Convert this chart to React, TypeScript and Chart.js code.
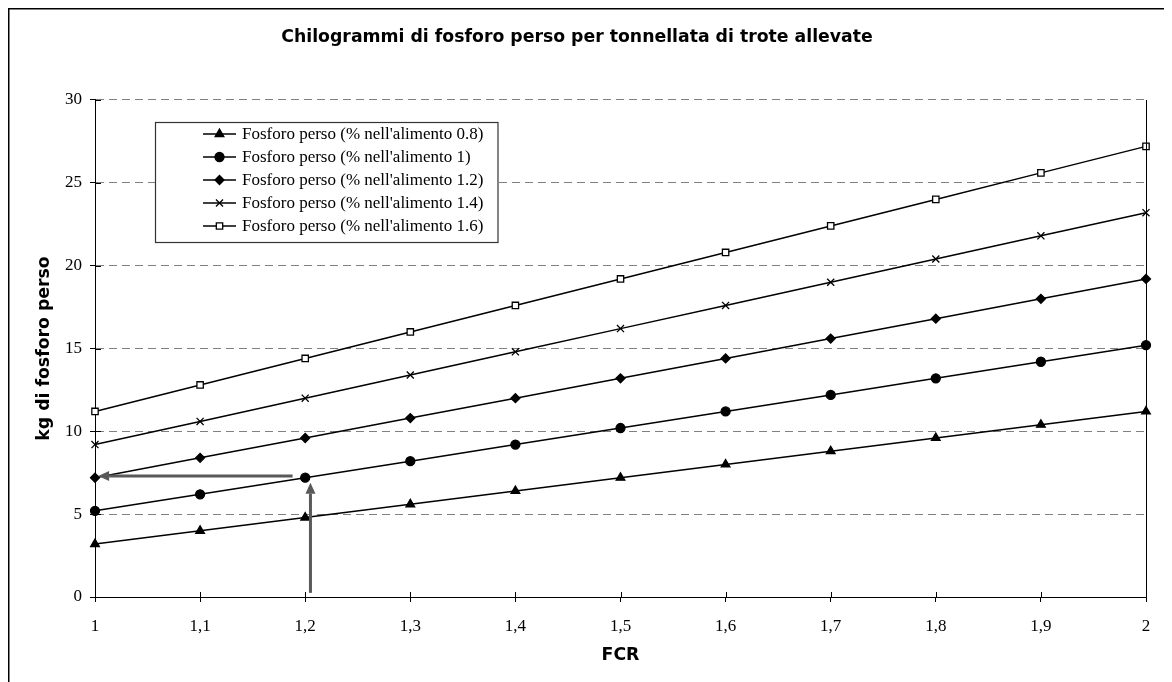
import React, { useEffect, useRef } from 'react';
import { Chart, registerables } from 'chart.js';
import { drawPoint } from 'chart.js/helpers';

Chart.register(...registerables);

// ---- data ----
const fcrLabels = ['1', '1,1', '1,2', '1,3', '1,4', '1,5', '1,6', '1,7', '1,8', '1,9', '2'];
const p08 = [3.2, 4.0, 4.8, 5.6, 6.4, 7.2, 8.0, 8.8, 9.6, 10.4, 11.2];
const p10 = [5.2, 6.2, 7.2, 8.2, 9.2, 10.2, 11.2, 12.2, 13.2, 14.2, 15.2];
const p12 = [7.2, 8.4, 9.6, 10.8, 12.0, 13.2, 14.4, 15.6, 16.8, 18.0, 19.2];
const p14 = [9.2, 10.6, 12.0, 13.4, 14.8, 16.2, 17.6, 19.0, 20.4, 21.8, 23.2];
const p16 = [11.2, 12.8, 14.4, 16.0, 17.6, 19.2, 20.8, 22.4, 24.0, 25.6, 27.2];
const seriesNames = [
  "Fosforo perso (% nell'alimento 0.8)",
  "Fosforo perso (% nell'alimento 1)",
  "Fosforo perso (% nell'alimento 1.2)",
  "Fosforo perso (% nell'alimento 1.4)",
  "Fosforo perso (% nell'alimento 1.6)",
];
const titleText = 'Chilogrammi di fosforo perso per tonnellata di trote allevate';
const yTitle = 'kg di fosforo perso';
const xTitle = 'FCR';
// annotation arrows, in data units (x = category index, y = kg)
const arrowHorizontal = { fromX: 1.88, toX: 0.03, y: 7.3 };
const arrowVertical = { x: 2.05, fromY: 0.25, toY: 6.9 };

const SERIF = "'Liberation Serif', 'Times New Roman', serif";
const SANS = "'DejaVu Sans', Verdana, sans-serif";
const SANS_SIZE = 17.3;

const styles = [
  { pointStyle: 'triangle', radius: 5, bg: '#000' },
  { pointStyle: 'circle', radius: 4.5, bg: '#000' },
  { pointStyle: 'rectRot', radius: 4.5, bg: '#000' },
  { pointStyle: 'crossRot', radius: 5, bg: '#000' },
  { pointStyle: 'rect', radius: 4.5, bg: '#fff' },
];

export default function App() {
  const ref = useRef<HTMLCanvasElement>(null);

  useEffect(() => {
    document.body.style.overflow = 'hidden';
    const canvas = ref.current!;
    const W = 1164;
    const H = 674;
    const plotLeft = 87;
    const plotRight = 1138;
    const plotBottom = 589;
    const lh = SANS_SIZE * 1.2;

    const allSeries = [p08, p10, p12, p14, p16];

    const framePlugin = {
      id: 'frame',
      beforeDraw(chart: any) {
        const ctx = chart.ctx;
        ctx.save();
        ctx.fillStyle = '#fff';
        ctx.fillRect(0, 0, chart.width, chart.height);
        ctx.strokeStyle = '#000';
        ctx.lineWidth = 1.5;
        ctx.beginPath();
        ctx.moveTo(0.75, chart.height);
        ctx.lineTo(0.75, 0.75);
        ctx.lineTo(chart.width, 0.75);
        ctx.stroke();
        ctx.restore();
      },
      afterDraw(chart: any) {
        const ctx = chart.ctx;
        const { left, right, top, bottom } = chart.chartArea;
        const x = chart.scales.x;
        const y = chart.scales.y;
        ctx.save();
        ctx.strokeStyle = '#000';
        ctx.lineWidth = 1;
        ctx.beginPath();
        // right border of plot
        ctx.moveTo(Math.round(right) + 0.5, top);
        ctx.lineTo(Math.round(right) + 0.5, bottom);
        // inward tick marks
        y.ticks.forEach((_t: any, i: number) => {
          const py = Math.round(y.getPixelForTick(i)) + 0.5;
          ctx.moveTo(left, py);
          ctx.lineTo(left + 6, py);
        });
        x.ticks.forEach((_t: any, i: number) => {
          const px = Math.round(x.getPixelForTick(i)) + 0.5;
          ctx.moveTo(px, bottom);
          ctx.lineTo(px, bottom - 5);
        });
        ctx.stroke();
        ctx.restore();
      },
    };

    const drawArrow = (ctx: any, x1: number, y1: number, x2: number, y2: number) => {
      const ang = Math.atan2(y2 - y1, x2 - x1);
      const headLen = 11;
      const headW = 5;
      const bx = x2 - headLen * Math.cos(ang);
      const by = y2 - headLen * Math.sin(ang);
      ctx.beginPath();
      ctx.moveTo(x1, y1);
      ctx.lineTo(bx, by);
      ctx.stroke();
      ctx.beginPath();
      ctx.moveTo(x2, y2);
      ctx.lineTo(bx + headW * Math.sin(ang), by - headW * Math.cos(ang));
      ctx.lineTo(bx - headW * Math.sin(ang), by + headW * Math.cos(ang));
      ctx.closePath();
      ctx.fill();
    };

    const overlayPlugin = {
      id: 'overlay',
      afterDatasetsDraw(chart: any) {
        const ctx = chart.ctx;
        const x = chart.scales.x;
        const y = chart.scales.y;
        ctx.save();
        ctx.strokeStyle = '#595959';
        ctx.fillStyle = '#595959';
        ctx.lineWidth = 3;
        drawArrow(
          ctx,
          x.getPixelForValue(arrowHorizontal.fromX),
          y.getPixelForValue(arrowHorizontal.y),
          x.getPixelForValue(arrowHorizontal.toX),
          y.getPixelForValue(arrowHorizontal.y)
        );
        drawArrow(
          ctx,
          x.getPixelForValue(arrowVertical.x),
          y.getPixelForValue(arrowVertical.fromY),
          x.getPixelForValue(arrowVertical.x),
          y.getPixelForValue(arrowVertical.toY)
        );
        ctx.restore();

        // legend box
        const { left, top } = chart.chartArea;
        const boxX = left + 60;
        const boxY = top + 22;
        const rowH = 23;
        const firstRow = 12;
        ctx.save();
        ctx.font = `17px ${SERIF}`;
        let maxW = 0;
        seriesNames.forEach((n) => {
          maxW = Math.max(maxW, ctx.measureText(n).width);
        });
        const lineX1 = boxX + 48;
        const lineX2 = boxX + 81;
        const textX = boxX + 87;
        const boxW = textX - boxX + maxW + 14;
        const boxH = firstRow + rowH * 4 + 16;
        ctx.fillStyle = '#fff';
        ctx.fillRect(boxX, boxY, boxW, boxH);
        ctx.strokeStyle = '#333';
        ctx.lineWidth = 1.2;
        ctx.strokeRect(Math.round(boxX) + 0.5, Math.round(boxY) + 0.5, boxW, boxH);
        ctx.textBaseline = 'middle';
        ctx.textAlign = 'left';
        seriesNames.forEach((n, i) => {
          const cy = boxY + firstRow + i * rowH;
          ctx.strokeStyle = '#000';
          ctx.lineWidth = 1.5;
          ctx.beginPath();
          ctx.moveTo(lineX1, cy);
          ctx.lineTo(lineX2, cy);
          ctx.stroke();
          const st = styles[i];
          ctx.fillStyle = st.bg;
          ctx.strokeStyle = '#000';
          ctx.lineWidth = 1.3;
          drawPoint(ctx, { pointStyle: st.pointStyle, radius: st.radius, rotation: 0, borderWidth: 1.3 } as any, (lineX1 + lineX2) / 2, cy);
          ctx.fillStyle = '#000';
          ctx.fillText(n, textX, cy + 1);
        });
        ctx.restore();
      },
    };

    const chart = new Chart(canvas, {
      type: 'line',
      data: {
        labels: fcrLabels,
        datasets: allSeries.map((d, i) => ({
          label: seriesNames[i],
          data: d,
          borderColor: '#000',
          borderWidth: 1.5,
          backgroundColor: styles[i].bg,
          pointStyle: styles[i].pointStyle as any,
          pointRadius: styles[i].radius,
          pointHoverRadius: styles[i].radius,
          pointBackgroundColor: styles[i].bg,
          pointBorderColor: '#000',
          pointBorderWidth: 1.3,
          tension: 0,
          fill: false,
        })),
      },
      options: {
        animation: false,
        responsive: false,
        devicePixelRatio: 1,
        layout: { padding: { left: 0, right: W - plotRight, top: 0, bottom: 0 } },
        plugins: {
          legend: { display: false },
          tooltip: { enabled: false },
          title: {
            display: true,
            text: titleText,
            color: '#000',
            font: { family: SANS, size: SANS_SIZE, weight: 'bold', lineHeight: 1.2 },
            padding: { top: 30 - lh / 2, bottom: 92 - (30 - lh / 2) - lh },
          },
        },
        scales: {
          x: {
            type: 'category',
            offset: false,
            grid: {
              display: true,
              drawOnChartArea: false,
              drawTicks: true,
              tickLength: 5,
              tickColor: '#000',
              color: '#000',
            },
            border: { display: true, color: '#000', width: 1 },
            ticks: {
              color: '#000',
              font: { family: SERIF, size: 17 },
              padding: 14,
              autoSkip: false,
              maxRotation: 0,
            },
            title: {
              display: true,
              text: xTitle,
              color: '#000',
              font: { family: SANS, size: SANS_SIZE, weight: 'bold', lineHeight: 1.2 },
              padding: { top: 0, bottom: 674 - 647.5 - lh / 2 },
            },
            afterFit(scale: any) {
              scale.height = H - plotBottom;
            },
          },
          y: {
            min: 0,
            max: 30,
            ticks: {
              stepSize: 5,
              color: '#000',
              font: { family: SERIF, size: 17 },
              padding: 8,
            },
            grid: {
              color: '#808080',
              lineWidth: 1,
              drawTicks: true,
              tickLength: 5,
              tickColor: '#000',
              tickBorderDash: [],
            },
            border: { display: true, color: '#000', width: 1, dash: [8, 5] },
            title: {
              display: true,
              text: yTitle,
              color: '#000',
              font: { family: SANS, size: SANS_SIZE, weight: 'bold', lineHeight: 1.2 },
              padding: { top: 37 - lh / 2, bottom: 0 },
            },
            afterFit(scale: any) {
              scale.width = plotLeft;
            },
          },
        },
      },
      plugins: [framePlugin, overlayPlugin],
    });

    return () => {
      chart.destroy();
    };
  }, []);

  return (
    <canvas
      ref={ref}
      width={1164}
      height={674}
      style={{ display: 'block', width: 1164, height: 674 }}
    />
  );
}
